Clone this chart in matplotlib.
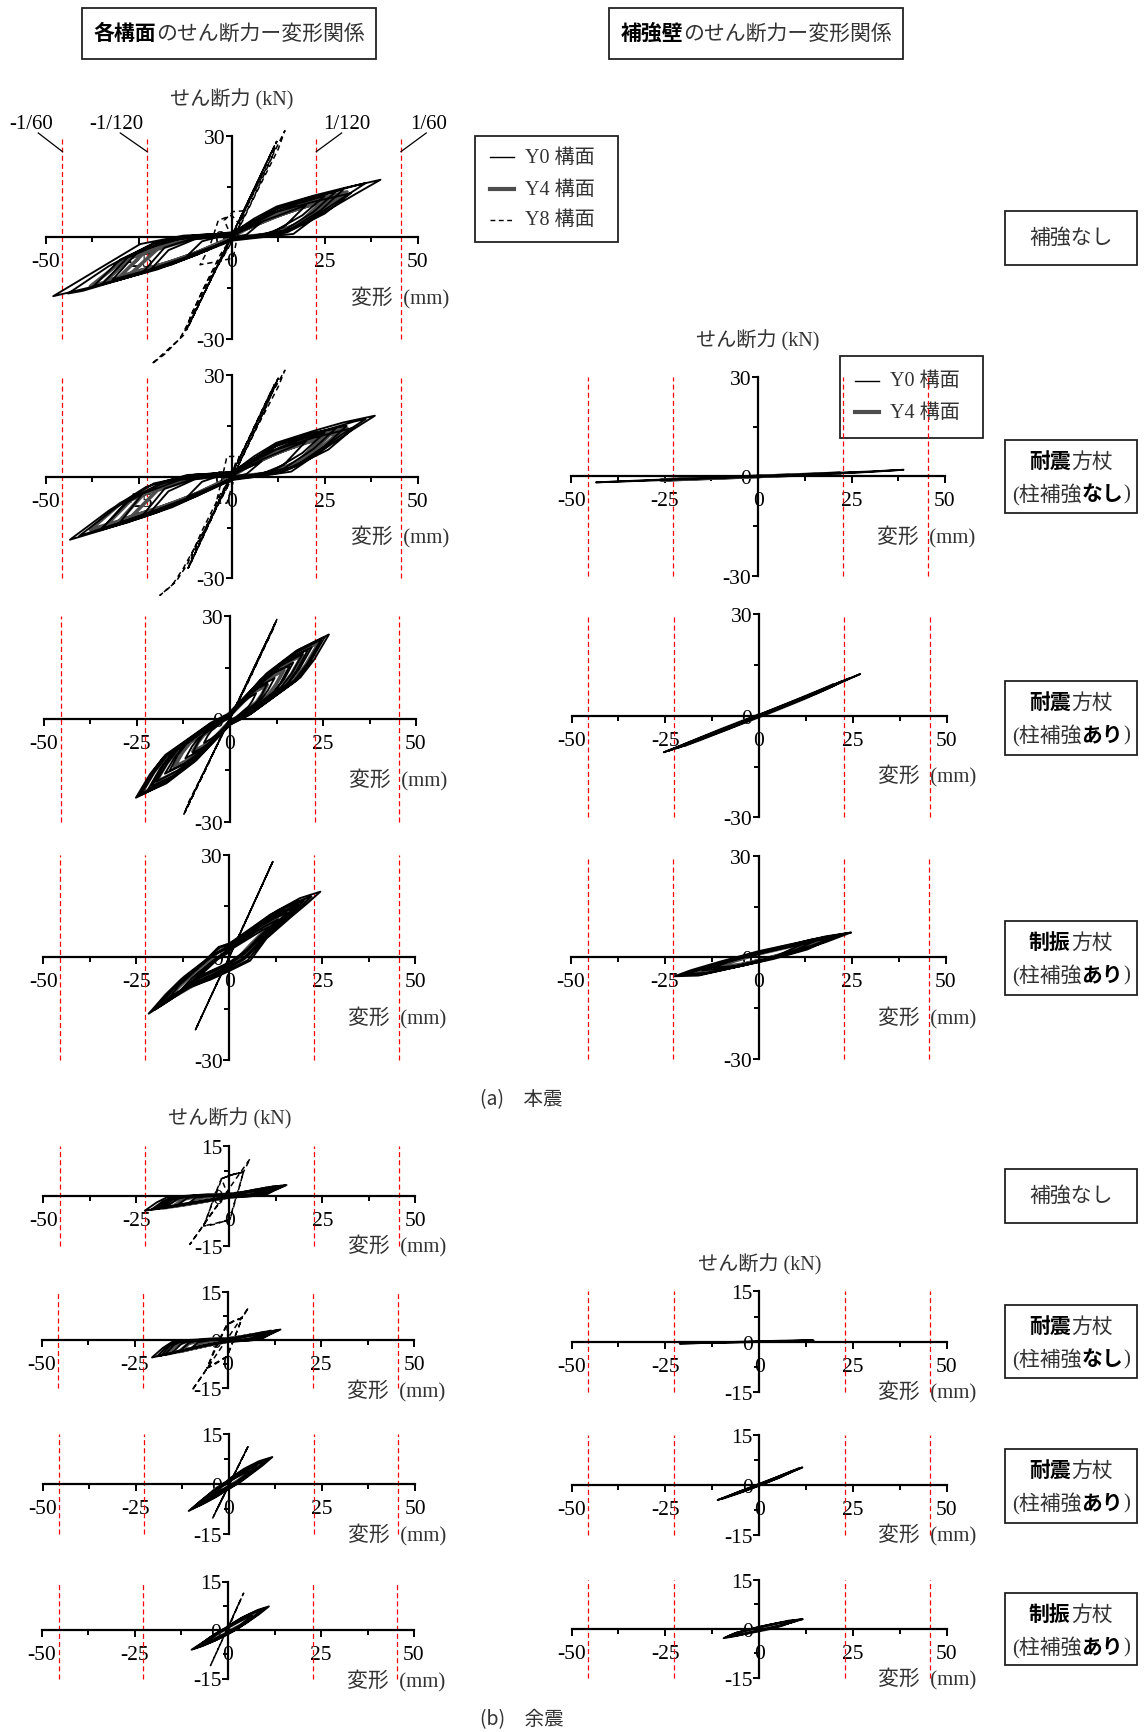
import matplotlib
matplotlib.use('Agg')
import matplotlib.pyplot as plt
from matplotlib.patches import Rectangle

plt.rcParams['font.family'] = ['Liberation Serif', 'Noto Sans CJK JP']
JP = ['Liberation Serif', 'Noto Sans CJK JP']
SANS = ['Noto Sans CJK JP', 'DejaVu Sans']

# ---------------- data ----------------
x_ticks = [-50, -25, 0, 25, 50]
x_tick_labels = ['-50', '-25', '0', '25', '50']
x_minor = [-37.5, -12.5, 12.5, 37.5]
drift_x = [-45.5, -22.75, 22.75, 45.5]
drift_labels = ['-1/60', '-1/120', '1/120', '1/60']
series_names = ['Y0 構面', 'Y4 構面', 'Y8 構面']
y_label = 'せん断力 (kN)'
x_label = '変形  (mm)'

# (a) main shock, frames ------------------------------------------------
a1_y0 = [(0,0),(2,1.5),(5,3),(8,4.5),(4,0.8),(1,0),(0,-0.5),(-3,-2),(-7,-3.5),(-12,-5.5),(-8,-1.2),(-4,0),(0,0.8),
         (4,2.5),(9,5),(14,7),(20,9.5),(14,3),(8,0.5),(2,0),(-4,-2.5),(-11,-5.5),(-18,-8.5),(-24,-10.5),(-18,-3),(-10,-0.2),(-4,0.5),(0,1),
         (5,4),(12,8.5),(20,11.5),(30,14.1),(24,8),(16,2.5),(8,0.3),(0,-0.5),(-9,-5),(-20,-9.5),(-30,-12.5),(-37.2,-14.5),(-30,-6.6),(-21,-2),(-12,0),(0,1.5),
         (5,4.2),(12,8.3),(21,11.5),(28,13.5),(22,7.5),(14,2),(6,0.1),(0,-0.6),(-9,-4.8),(-19,-8.8),(-29,-12.2),(-35,-14),(-28,-6),(-18,-1.3),(-8,0.6),(0,1.1),
         (6,5.5),(12.1,9.1),(22,12.3),(30,14.5),(40,17),(33,12.6),(22,5.5),(16.6,1),(8,0),(0,-1),(-8,-4.5),(-16,-8),(-23,-10.1),(-37,-14.5),(-48,-17.4),(-36,-9.5),(-24.6,-2),(-13,0.5),(0,1.2),
         (6,4.8),(13,9),(23,12.2),(33,15.2),(36,16),(29,11),(20,4.5),(13,1),(0,-0.7),(-11,-5.8),(-24,-10.6),(-40,-15.8),(-44,-16.6),(-33,-8.5),(-21,-1.7),(-10,0.6),(0,1.3),
         (5,3.5),(12,7.5),(22,10.5),(32,13),(25,7),(15,1.5),(6,0),(0,-0.5),(-10,-5),(-22,-9.5),(-32,-12.5),(-25,-4),(-14,-0.5),(-5,0.5),(0,0.5),
         (4,3.2),(10,6.8),(18,10),(25,12.2),(19,6.5),(11,1.5),(3,0),(0,-0.4),(-7,-3.8),(-15,-7.4),(-22,-9.8),(-17,-3.8),(-10,-0.6),(0,0.7)]
a1_y4 = [(0,0),(4,2.5),(10,5.5),(18,8.5),(26,11),(20,5),(12,1.2),(4,0),(0,-0.5),(-6,-3),(-14,-6.5),(-22,-9),(-30,-11.5),(-24,-5),(-15,-1),(-6,0.3),(0,0.8),
         (6,3.5),(14,7),(22,10),(28,12),(22,6),(14,1.5),(6,0.2),(0,-0.3),(-8,-4),(-17,-7.5),(-26,-10.5),(-34,-13),(-27,-6),(-17,-1.5),(-7,0.4),(0,1),
         (5,3.8),(13,7.8),(21,10.8),(31,13.4),(25,8),(16,2.5),(7,0.3),(0,-0.4),(-9,-4.6),(-19,-8.5),(-30,-12),(-38,-14.5),(-30,-7.5),(-19,-2),(-8,0.4),(0,0.9),
         (5,3),(12,6.3),(20,9.2),(24,10.2),(18,4),(10,0.8),(0,0),(-10,-4.8),(-20,-8.5),(-27,-10.6),(-20,-3.5),(-10,-0.3),(0,0.5)]
a1_y8 = [(0,0),(-2,5),(0.4,7.6),(3,7.8),(2,3),(0.4,-6.1),(-3,-7),(-8.5,-8.1),(-6,-3),(-3.6,5),(0,6.5),
         (2,4),(4,9),(8,18),(12.1,28.3),(11,24),(6,12),(1,1),(-4,-9),(-8,-18),(-12.1,-27.3),(-11,-23),(-6,-12),(0,0),
         (4,9.7),(8,18.9),(11.5,27),(9,21.2),(4.5,10.8),(-1,-1.8),(-5.5,-12.2),(-9,-20.2),(-11.5,-26),(-9.5,-21.4),(-3.5,-7.6),
         (2,5.1),(7,16.6),(12.1,28.3),(10,23.5),(3,7.4),(-2.5,-5.3),(-7,-15.6),(-12.1,-27.3),(-10,-22),(-4,-8.5),(0,0),
         (5,11),(10,22),(14.3,31.5),(12.5,26),(7,14),(1,0.5),(-4,-9),(-9,-20),(-14,-30),(-18,-34.5),(-21.5,-37.4),
         (-17,-33),(-13,-29),(-12,-26),(-8,-16),(-3,-5),(0,0)]

a2_y0 = [(0,0),(2,1.5),(5,3),(8,4.5),(4,0.8),(1,0),(0,-0.5),(-3,-2),(-7,-3.8),(-12,-6),(-8,-1.5),(-4,0),(0,0.8),
         (4,2.8),(9,5.5),(14,7.8),(20,10.5),(14,3.5),(8,0.8),(2,0),(-4,-2.8),(-11,-6),(-18,-9.5),(-24,-11.5),(-18,-3.5),(-10,-0.5),(-4,0.5),(0,1),
         (5,4.5),(12,9.5),(20,12.5),(30.9,15),(25,9),(17,3),(8,0.5),(0,-0.5),(-9,-5.5),(-20,-10.5),(-28,-13.5),(-35.4,-15.8),(-28,-7.5),(-20,-2.5),(-12,0),(0,1.5),
         (5,4.6),(12,9),(21,12.3),(28,14.3),(22,8.2),(14,2.4),(6,0.2),(0,-0.6),(-9,-5.2),(-19,-9.6),(-29,-13.2),(-35,-15.5),(-28,-7),(-18,-1.6),(-8,0.6),(0,1.1),
         (6,6),(12,10),(22,13.5),(30,16),(38.5,18),(32,13.5),(22,6),(16,1.5),(8,0.2),(0,-1),(-8,-5),(-16,-9),(-24,-12),(-35,-15.8),(-43.5,-18.6),(-33,-10),(-23,-3),(-12,0.5),(0,1.2),
         (6,5.2),(13,9.8),(23,13),(33,16.3),(36,17),(29,12),(20,5),(13,1.2),(0,-0.7),(-11,-6.2),(-24,-11.5),(-37,-16),(-41,-17.5),(-31,-9),(-21,-2),(-10,0.6),(0,1.3),
         (5,4),(12,8),(22,11.5),(33,14.5),(26,8),(15,2),(6,0.2),(0,-0.5),(-10,-5.5),(-22,-10.5),(-30,-13.5),(-24,-5),(-14,-1),(-5,0.5),(0,0.5),
         (4,3.5),(10,7.3),(18,10.8),(25,13),(19,7),(11,1.7),(3,0),(0,-0.4),(-7,-4.2),(-15,-8),(-22,-10.6),(-17,-4.3),(-10,-0.8),(0,0.7)]
a2_y4 = [(0,0),(4,2.8),(10,6),(18,9.5),(26,12),(20,5.5),(12,1.5),(4,0),(0,-0.5),(-6,-3.3),(-14,-7.2),(-22,-10),(-30,-12.8),(-24,-5.5),(-15,-1.2),(-6,0.3),(0,0.8),
         (6,4),(14,7.8),(22,11),(29,13.2),(22,6.5),(14,1.8),(6,0.2),(0,-0.3),(-8,-4.5),(-17,-8.3),(-26,-11.8),(-34,-14.6),(-27,-6.8),(-17,-1.8),(-7,0.4),(0,1),
         (5,4),(13,8.4),(21,11.6),(31,14.3),(25,8.6),(16,2.7),(7,0.3),(0,-0.4),(-9,-5),(-19,-9.2),(-30,-13),(-38,-15.6),(-30,-8),(-19,-2.2),(-8,0.4),(0,0.9),
         (5,3.3),(12,7),(20,10),(24,11.2),(18,4.5),(10,1),(0,0),(-10,-5.3),(-20,-9.4),(-27,-11.8),(-20,-4),(-10,-0.5),(0,0.5)]
a2_y8 = [(0,0),(1,4),(2.2,5.9),(0,6),(-1.3,5.9),(-2.5,0),(-4.2,-7.8),(-1.3,-7.8),(0,-3),(2,4),(5,11),(9,20),(12.5,29.1),(11,25),(6,13),(1,1.5),
         (-4,-9),(-8,-18.5),(-11.7,-27),(-10.5,-23),(-5,-10.5),(0,1),
         (4,9.8),(8,19.1),(11.5,27.2),(9,21.4),(4.5,11),(-1,-1.8),(-5.5,-12.4),(-9,-20.6),(-11.7,-27),(-9.5,-21.8),(-3.5,-7.6),
         (2,5.2),(7,16.8),(12.5,29.1),(10,23.8),(3,7.5),(-2.5,-5.4),(-7,-16),(-11.7,-27),
         (-8,-18),(-3,-6),(0,1),(5,12),(10,23),(14.3,31.4),(12.5,26.5),(7,15),(1,1.5),(-4,-9),(-9,-19),
         (-13,-27),(-16,-32),(-19.3,-35),(-15,-31),(-12,-26),(-8,-16),(-3,-5),(0,0)]

a3_y0 = [(0,2),(10,13.1),(18.6,20.3),(26.6,24.7),(22.6,17.3),(18.9,12.1),(5.6,1.5),(0,-1.5),(-9.6,-12.2),(-17.7,-18.9),(-25.3,-23),(-21.5,-16.1),(-18,-11.3),(-5.3,-1.4),(0,1.5),
         (9.8,13.3),(17.9,20),(25.5,24),(21.5,16.5),(18,11.3),(5.2,1.2),(0,-1.7),(-9.3,-12.3),(-17.1,-18.8),(-24.5,-22.4),(-20.8,-15.4),(-17.4,-10.5),(-5.1,-1.1),(0,1.7),
         (9.3,12.3),(17.2,19.1),(24.5,23.2),(20.8,16.2),(17.4,11.4),(5.1,1.4),(0,-1.4),(-9,-11.5),(-16.7,-17.9),(-23.8,-21.8),(-20.2,-15.3),(-16.9,-10.7),(-5,-1.3),(0,1.5),
         (8.4,11.1),(15.4,17.2),(22,21),(18.7,14.7),(15.6,10.3),(4.6,1.3),(0,-1.3),(-8.4,-10.9),(-15.4,-16.8),(-22,-20.5),(-18.7,-14.3),(-15.6,-10),(-4.6,-1.2),(0,1.3),
         (8.1,11.4),(14.7,17.2),(21,20.3),(17.8,14),(14.9,9.5),(4.3,1),(0,-1.5),(-8,-10.6),(-14.7,-16.4),(-21,-19.6),(-17.8,-13.4),(-14.9,-9.1),(-4.3,-0.9),(0,1.4),
         (7.4,10.1),(13.7,15.6),(19.5,19),(16.6,13.3),(13.8,9.3),(4.1,1.1),(0,-1.1),(-7.5,-9.7),(-13.9,-15),(-19.8,-18.3),(-16.8,-12.8),(-14.1,-9),(-4.2,-1.1),(0,1.2),
         (6.5,8.7),(11.9,13.5),(17,16.5),(14.5,11.5),(12,8.1),(3.6,1),(0,-1),(-6.7,-8.5),(-12.3,-13.1),(-17.5,-16),(-14.9,-11.2),(-12.4,-7.8),(-3.7,-0.9),(0,1),
         (6.1,8.9),(11.2,13.3),(16,15.5),(13.6,10.6),(11.3,7.2),(3.3,0.7),(0,-1.2),(-6.2,-8.5),(-11.4,-12.6),(-16.3,-15.2),(-13.9,-10.3),(-11.5,-7),(-3.4,-0.6),(0,1.2),
         (4.6,6.4),(8.4,9.8),(12,12),(10.2,8.4),(8.5,5.9),(2.5,0.7),(0,-0.8),(-4.6,-6.1),(-8.4,-9.4),(-12,-11.5),(-10.2,-8),(-8.5,-5.6),(-2.5,-0.7),(0,0.8),
         (3.8,6),(7,8.8),(10,10.3),(8.5,7),(7.1,4.7),(2.1,0.4),(0,-0.9),(-3.8,-5.6),(-7,-8.3),(-10,-9.8),(-8.5,-6.6),(-7.1,-4.4),(-2.1,-0.4),(0,0.9),
         (2.7,4),(4.9,6.2),(7,7.5),(6,5.3),(5,3.7),(1.5,0.4),(0,-0.5),(-2.7,-3.7),(-4.9,-5.7),(-7,-7),(-6,-4.9),(-5,-3.4),(-1.5,-0.4),(0,0.4)]
a3_y4 = [(0,1.8),(9.1,11.9),(16.8,18.5),(24,22.5),(20.4,15.8),(17,11),(5,1.4),(0,-1.4),(-9.1,-11.7),(-16.8,-18),(-24,-22),(-20.4,-15.4),(-17,-10.8),(-5,-1.3),(0,1.6),
         (7.4,10),(13.7,15.4),(19.5,18.8),(16.6,13.2),(13.8,9.2),(4.1,1.1),(0,-1.1),(-7.6,-9.8),(-14,-15.2),(-20,-18.5),(-17,-13),(-14.2,-9.1),(-4.2,-1.1),(0,1.3),
         (5.5,7.6),(10.2,11.7),(14.5,14.3),(12.3,10),(10.3,7),(3,0.9),(0,-0.9),(-5.7,-7.4),(-10.5,-11.5),(-15,-14),(-12.8,-9.8),(-10.7,-6.9),(-3.2,-0.8),(0,1),
         (3.8,5.3),(7,8.2),(10,10),(8.5,7),(7.1,4.9),(2.1,0.6),(0,-0.6),(-3.8,-5),(-7,-7.8),(-10,-9.5),(-8.5,-6.7),(-7.1,-4.7),(-2.1,-0.6),(0,0.6)]
a3_y8 = [(0,0),(6,14),(12.6,29.1),(11.5,26),(5,11.5),(0,0.5),(-6,-13.5),(-12.4,-27.8),(-11.5,-25.5),(-5,-11),(0,0),
         (6,13.5),(12,27.5),(11,25),(5,11),(-1,-2),(-7,-15.5),(-12,-27),(-11,-24),(-5,-11),(0,0),
         (3,7),(9,20.8),(12.4,28.6),(8,18.5),(2,4.5),(-3,-6.5),(-9,-20),(-12.2,-27.4),(-8,-18),(-2,-4.3),(4,9.3),(10,23)]

a4_y0 = [(0,3),(5,7.5),(12.8,13.6),(19,17.3),(24.5,19.2),(21,15.8),(16.4,11.6),(10,5.5),(5.6,-1),(0,-4),(-5,-6.5),(-11.4,-9),(-16,-12.5),(-21.7,-16.5),(-18,-12),(-13,-6.5),(-7,-1.5),(-2.9,3),(0,4),
         (5,7.8),(11,12.5),(17,15.8),(22,17.8),(19,14.5),(14.5,10.5),(9,4.8),(5,-0.8),(0,-3.6),(-5,-6.2),(-10.5,-8.7),(-15,-11.8),(-20,-15.3),(-17,-11.3),(-12,-5.8),(-6.5,-1),(-2.5,3),(0,3.6),
         (4,6.5),(10,11.2),(15,14.5),(20,16.5),(17,13),(13,9.5),(8,4),(4,-0.5),(0,-3),(-5,-5.8),(-10,-8),(-15,-11),(-19,-14),(-16,-10),(-11,-5),(-5,0),(0,3.5),
         (4.5,6.8),(9.5,10.6),(14,13.3),(18.5,15.4),(15.5,12),(12,8.5),(7.5,3.5),(4,-0.3),(0,-2.8),(-4.5,-5.3),(-9.5,-7.6),(-14,-10.4),(-18,-13.2),(-15,-9.2),(-10,-4.4),(-5,0.2),(0,3.2),
         (3.5,5.7),(9,9.9),(13.5,12.6),(17.5,14.6),(14.5,11.3),(11,7.7),(7,3),(3.5,-0.5),(0,-2.5),(-4.5,-5),(-9,-7.2),(-13,-9.8),(-16.5,-12.3),(-13.5,-8.2),(-8.5,-3.3),(-4,1),(0,2.8),
         (4,5.5),(8,8.8),(12,11.3),(15.5,13),(12,9.5),(8,5),(4,1),(0,-2),(-5,-4.5),(-9,-6.5),(-13,-9.5),(-10,-6),(-5,-1.5),(0,2.5),
         (3.5,4.8),(7,7.4),(10.5,9.6),(13,11),(10,7.8),(6.5,3.8),(3,0.4),(0,-1.8),(-4.5,-4),(-8,-5.8),(-11,-8),(-8,-4.8),(-4,-1),(0,2),
         (3,4),(6,6),(9,8),(11,9),(8,6),(5,2.5),(2,0),(0,-1.5),(-4,-3.5),(-7,-5),(-9,-6.5),(-6,-3.5),(-3,-0.5),(0,1.5)]
a4_y4 = [(0,3.5),(4,6.8),(9,10.5),(14,13.8),(18,15.5),(22,17.5),(19,14.5),(14,10.5),(9,5.5),(5,0.5),(0,-3.5),(-5,-6),(-10,-8.4),(-15,-11.5),(-20,-15),(-17,-11),(-12,-5.8),(-6,-0.8),(-2,3),(0,3.8),
         (5,7),(10,10.5),(14,12.8),(17.5,14.5),(14,11),(10,7),(6,2.5),(3,-0.5),(0,-2.5),(-5,-5.2),(-10,-7.7),(-14,-10.5),(-17,-12.5),(-13,-8),(-8,-3),(-3,1.5),(0,3),
         (4,5.5),(8,8.3),(13,11.5),(10,8.3),(6,4),(3,0.5),(0,-1.8),(-4,-4),(-8,-6),(-11,-8),(-8,-4.5),(-4,-0.8),(0,2)]
a4_y8 = [(0,0.2),(6,14.4),(11.7,28),(6,14.4),(0,0.2),(-5,-11.5),(-9.1,-21.2),(-5,-11.5),(0,0.2),(6,14.4),(11.7,28),
         (8,19.1),(3,7.1),(-2,-4.6),(-7,-16.3),(-9.1,-21.2),(-6,-14),(-1,-2.3),(4,9.6),(9,21.5),(11.7,28)]

# (a) main shock, braces ------------------------------------------------
a2r_y0 = [(0,0),(10,0.5),(20,1),(30,1.5),(38.9,2),(30,1.35),(20,0.85),(10,0.35),(0,-0.1),(-10,-0.5),(-20,-0.9),(-30,-1.3),(-43.4,-1.8),
          (-30,-1.15),(-20,-0.7),(-10,-0.3),(0,0.1),(10,0.45),(20,0.95),(28,1.3)]
a2r_y4 = [(0,0),(8,0.35),(16,0.7),(22,0.95),(14,0.55),(0,0),(-10,-0.45),(-20,-0.85),(-26,-1.1),(-15,-0.6),(0,0)]
a3r_y0 = [(0,0),(8,3.5),(16,7.3),(27,12.3),(18,7.9),(8,3.2),(0,-0.2),(-8,-3.7),(-16,-7),(-25.4,-10.8),(-16,-6.6),(-8,-3.2),(0,0.3),
          (10,4.6),(22,10.1),(14,6),(4,1.4),(-6,-2.9),(-18,-8),(-22,-9.6),(-12,-4.9),(0,0.2),
          (12,5.6),(24,11),(16,6.8),(4,1.6),(-8,-3.9),(-20,-8.9),(-24,-10.3),(-14,-5.8),(-2,-0.6)]
a3r_y4 = [(0,0),(6,2.7),(14,6.3),(20,9.1),(12,5.1),(2,0.6),(-8,-3.6),(-16,-7.1),(-20,-8.7),(-10,-4.1),(0,0.2)]
a4r_y0 = [(24.6,7.3),(18,6.2),(10,4.2),(0,1.8),(-10,-1.2),(-18,-3.8),(-22.4,-5.6),(-16,-5.4),(-8,-3.4),(0,-1.4),(10,1.6),(18,4.5),(24.6,7.3),
          (22,6.8),(14,5.2),(4,2.3),(-6,-0.5),(-14,-3),(-20.5,-5.2),(-15,-5),(-6,-2.9),(4,-0.5),(13,2.3),(22,6.8),
          (20,6),(12,4.5),(2,1.8),(-8,-1),(-16,-3.8),(-20,-5),(-14,-4.6),(-4,-2.4),(6,0.6),(14,3.4),(20,6),
          (15,4.8),(6,2.6),(-4,0),(-12,-2.8),(-15,-3.9),(-8,-3),(2,-0.6),(10,2.2),(15,4.8),
          (12,4),(2,1.6),(-8,-1.2),(-12,-3),(-6,-2.6),(4,0),(12,4)]
a4r_y4 = [(17,5.5),(8,3.4),(-2,0.8),(-10,-2),(-17,-4.4),(-11,-3.8),(-2,-1.6),(8,1.4),(17,5.5),(10,3.6),(0,1),(-8,-1.6),(-11,-3),(-4,-2),(6,0.6),(10,2.8)]

# (b) aftershock, frames ------------------------------------------------
b5_y0 = [(0,0),(5,1),(10,2.1),(15.4,3.2),(12,1.5),(9.9,0.3),(0,-0.3),(-8,-1.8),(-15,-3.1),(-22.7,-4.5),(-19.5,-2),(-16.8,-0.5),(-8,0),(0,0.3),
         (6,1.4),(13,2.9),(15,3.1),(11,1.2),(8,0.1),(0,-0.4),(-9,-2),(-17,-3.5),(-21,-4.2),(-18,-1.8),(-15,-0.3),(-7,0.1),(0,0.3),
         (5,1.3),(10,2.4),(14,3),(10.5,1),(8.5,0.1),(0,-0.45),(-7.5,-1.8),(-14.5,-3.1),(-20,-4.1),(-17,-1.5),(-14,-0.2),(-6.5,0.2),(0,0.35),
         (6,1.5),(12,2.7),(9,0.8),(7,0),(0,-0.4),(-7,-1.6),(-14,-2.9),(-19,-3.8),(-16,-1.2),(-13,-0.2),(-6,0.2),(0,0.4),
         (4,0.9),(8,1.8),(11,2.4),(8.5,0.9),(6.5,0),(0,-0.35),(-7,-1.6),(-13,-2.7),(-17,-3.4),(-14,-1),(-11,-0.1),(-5,0.2),(0,0.35),
         (3,0.8),(7,1.7),(10,2.2),(7.5,0.6),(5.5,0),(0,-0.3),(-5,-1.2),(-10,-2.2),(-14,-2.9),(-11.5,-0.8),(-8.5,0),(-3,0.2),(0,0.25),
         (4,1),(12,2.6),(9.5,0.7),(0,-0.4),(-10,-2.3),(-18,-3.7),(-15,-0.9),(-9,0.1),(0,0.3),
         (5,1.2),(9,2),(6,0.4),(0,-0.3),(-6,-1.4),(-11,-2.3),(-9,-0.6),(-4,0.1),(0,0.2)]
b5_y4 = [(0,0),(4,0.9),(8,1.8),(12,2.6),(9,1.2),(7,0.2),(0,-0.4),(-6,-1.5),(-12,-2.7),(-18,-3.7),(-15,-1.5),(-12,-0.3),(-5,0.2),(0,0.4),
         (5,1.1),(10,2.2),(8,0.9),(6,0.1),(0,-0.3),(-8,-1.9),(-15,-3.1),(-12,-1),(-8,0),(0,0.3),
         (3,0.7),(7,1.6),(5,0.3),(0,-0.2),(-5,-1.2),(-10,-2.2),(-7,-0.4),(0,0.2)]
b5_y8 = [(0,0),(-1,2),(-2.1,5.1),(0.5,6.2),(3.8,7.1),(2.8,3),(1.5,-2),(0.2,-7.1),(-3,-8.1),(-6.9,-9.1),(-5.5,-5),(-4,0),(-2.1,5.1),
         (1,6.4),(3.8,7.1),(2.5,2),(1,-3.5),(0.2,-7.1),(-4,-8.6),(-6.9,-9.1),(-5,-3.5),(-3,2),(-2.1,5.1),
         (1,6.4),(3.8,7.1),(5.6,11.1),(3,7),(0,2.2),(-3,-2.6),(-6,-7.3),(-8.5,-11.3),(-10.6,-14.6),(-8,-10.5),(-5,-5.7),(-2,-1)]

b6_y0 = [(0,0),(5,1.2),(10,2.4),(14.1,3.3),(11,1.6),(9,0.3),(0,-0.4),(-7,-1.9),(-14,-3.8),(-20.4,-5.5),(-17.5,-2.5),(-15,-0.6),(-7,0),(0,0.3),
         (6,1.5),(12,2.8),(13.5,3.1),(10,1.2),(7.5,0.1),(0,-0.4),(-8,-2.2),(-15,-4.1),(-19,-5.1),(-16.5,-2.2),(-14,-0.4),(-6,0.1),(0,0.3),
         (5,1.3),(9.5,2.4),(12.5,2.9),(9.5,1),(7.5,0),(0,-0.45),(-7.5,-2.1),(-14,-3.9),(-18,-4.9),(-15.5,-1.8),(-13,-0.3),(-6,0.15),(0,0.3),
         (6,1.5),(11,2.6),(8.5,0.9),(6.5,0),(0,-0.4),(-7,-1.9),(-13,-3.5),(-17,-4.6),(-14.5,-1.5),(-12,-0.2),(-5,0.2),(0,0.4),
         (4,1),(8,1.9),(10,2.3),(7.5,0.8),(5.5,0),(0,-0.3),(-6,-1.7),(-11,-3),(-15,-4),(-12.5,-1.2),(-10,-0.1),(-4,0.2),(0,0.3),
         (3,0.8),(6.5,1.6),(9,2.1),(6.5,0.5),(4.5,0),(0,-0.3),(-5,-1.4),(-9.5,-2.6),(-13,-3.5),(-10.5,-0.9),(-7.5,0),(-3,0.2),(0,0.25),
         (5,1.2),(8.5,2),(6,0.4),(0,-0.3),(-6,-1.6),(-10,-2.7),(-8,-0.7),(-4,0.1),(0,0.2)]
b6_y4 = [(0,0),(4,1),(8,1.9),(11.5,2.7),(8.5,1.1),(6.5,0.2),(0,-0.4),(-6,-1.7),(-12,-3.3),(-16.5,-4.4),(-14,-1.7),(-11,-0.3),(-5,0.2),(0,0.4),
         (5,1.2),(9.5,2.2),(7.5,0.8),(5.5,0.1),(0,-0.3),(-7,-2),(-13,-3.6),(-10.5,-1.1),(-7,0),(0,0.3),
         (3,0.8),(6.5,1.6),(4.5,0.3),(0,-0.2),(-5,-1.4),(-9,-2.5),(-6.5,-0.5),(0,0.2)]
b6_y8 = [(0,0),(-0.2,3),(-0.3,4.8),(1.5,6),(3.8,6.9),(2.5,3),(1,-1.5),(-0.3,-5.2),(-3,-7),(-5.6,-8.8),(-4,-4.5),(-2,0.5),(-0.3,4.8),
         (2,6.2),(3.8,6.9),(2,1.5),(0.5,-3),(-0.3,-5.2),(-4,-8),(-5.6,-8.8),(-3.5,-2.5),(-0.3,4.8),
         (2,6.2),(3.8,6.9),(5.5,10.2),(3,5.9),(0,0.7),(-3,-4.4),(-6,-9.6),(-9.7,-15.9),(-7.5,-12.2),(-4,-6.1)]

b7_y0 = [(0,1.5),(4,4.5),(8,6.8),(11.7,8.1),(9,5.5),(6,3),(3,0.5),(0,-1.5),(-4,-4.2),(-8,-6.5),(-10.8,-8.1),(-8,-5.5),(-5,-2.8),(-2,-0.3),(0,1.2),
         (4,4.2),(8.5,6.6),(10.5,7.5),(8,5),(5,2.5),(2,0),(0,-1.4),(-4,-4),(-7.5,-6.2),(-10,-7.5),(-7.5,-5),(-4.5,-2.4),(-1.5,0),(0,1),
         (3.5,3.8),(7,5.8),(9.5,6.9),(7.5,4.6),(5,2.4),(2.5,0.3),(0,-1.3),(-3.5,-3.8),(-7,-5.8),(-9,-6.9),(-6.5,-4.4),(-4,-2),(-1.5,0),(0,1),
         (3,3),(5.5,4.5),(7.5,5.5),(5.5,3.5),(3.5,1.6),(1.5,0),(0,-0.9),(-3,-3),(-5.5,-4.5),(-7,-5.3),(-5,-3.3),(-3,-1.3),(0,0.7),
         (2,2),(4,3.2),(5.5,3.8),(4,2.3),(2,0.6),(0,-0.6),(-2,-1.8),(-4,-3),(-5,-3.6),(-3.5,-2.2),(-1.5,-0.5),(0,0.5)]
b7_y4 = [(0,1),(3,3.3),(6,5.3),(8.5,6.2),(6.5,4),(4,1.8),(1.5,0),(0,-1),(-3,-3.3),(-6,-5.2),(-8,-6.3),(-6,-4),(-3.5,-1.5),(0,0.9),
         (2.5,2.6),(5,4.2),(6.5,4.8),(4.5,2.8),(2.5,1),(0,-0.7),(-2.5,-2.6),(-5,-4.1),(-6,-4.6),(-4,-2.5),(-2,-0.6),(0,0.6)]
b7_y8 = [(0,0),(2,4.1),(4,8.6),(5.4,11.8),(3,6.4),(0,-0.4),(-2.5,-6),(-4.5,-10.6),(-2,-4.9),(0,-0.4),(3,6.4),(5,10.9),
         (2.5,5.3),(-1,-2.7),(-3.5,-8.3),(-1,-2.7)]

b8_y0 = [(0,1.3),(4,4),(8,6.2),(11,7.3),(8.5,5),(5.5,2.6),(2.5,0.3),(0,-1.3),(-3.5,-3.3),(-7,-5),(-9.8,-6.1),(-7,-4),(-4.5,-2),(-2,-0.2),(0,1),
         (3.5,3.6),(7.5,5.8),(10,6.8),(7.8,4.6),(5,2.3),(2.2,0.2),(0,-1.2),(-3.2,-3.1),(-6.5,-4.7),(-9,-5.7),(-6.5,-3.7),(-4,-1.7),(-1.5,0),(0,0.9),
         (3,3),(6.5,5.2),(9,6.2),(7,4.2),(4.5,2),(2,0.2),(0,-1),(-3,-2.8),(-6,-4.3),(-8,-5.1),(-6,-3.3),(-3.5,-1.3),(0,0.8),
         (2.5,2.3),(5,3.8),(6.5,4.5),(5,3),(3,1.3),(1,0),(0,-0.7),(-2.5,-2.1),(-4.5,-3.3),(-6,-3.9),(-4,-2.2),(-2,-0.6),(0,0.5)]
b8_y4 = [(0,0.9),(3,2.8),(6,4.6),(8,5.5),(6,3.6),(3.5,1.5),(1,0),(0,-0.8),(-3,-2.6),(-5.5,-3.9),(-7,-4.5),(-5,-2.7),(-2.5,-0.8),(0,0.7)]
b8_y8 = [(0,0),(2,5.8),(4.2,11.4),(2,5.8),(0,0.8),(-2.5,-5.5),(-4.7,-11),(-2,-4.2),(0,0.8),(3,8.4)]

# (b) aftershock, braces ------------------------------------------------
b6r_y0 = [(0,0),(5,0.15),(10,0.25),(14.5,0.35),(8,0.1),(0,-0.1),(-8,-0.25),(-15,-0.4),(-21.2,-0.55),(-14,-0.35),(-6,-0.15),(0,0.05),(6,0.2),(12,0.3),
          (14,0.45),(6,0.3),(0,0.15),(-8,-0.1),(-16,-0.3),(-20,-0.4)]
b7r_y0 = [(0,0),(4,1.8),(8,3.6),(11.5,5.2),(7,3),(3,1.1),(0,-0.2),(-4,-1.9),(-8,-3.4),(-11.1,-4.6),(-7,-2.8),(-3,-1.1),(0,0.3),
          (5,2.4),(9,4.2),(5,2),(0,0),(-5,-2.3),(-9,-3.8),(-5,-1.9),(0,0.1),(6,2.9),(10.5,4.9),(6,2.4),(0,-0.3),(-6,-2.8),(-10,-4.3)]
b8r_y0 = [(11.5,2.9),(8,2.3),(4,1.5),(0,0.6),(-4,-0.6),(-7,-1.6),(-9.5,-2.9),(-6,-2.2),(-2,-1.1),(2,0),(6,1.1),(9,2),(11.5,2.9),
          (8,2.5),(3,1.3),(-2,-0.1),(-6,-1.2),(-8,-2.2),(-4,-1.5),(1,-0.3),(6,1),(9.5,2.3),
          (10.5,2.7),(5,1.7),(0,0.4),(-5,-1),(-8.8,-2.6),(-5,-1.9),(0,-0.7),(5,0.6),(10.5,2.7)]
b8r_y4 = [(8,2),(3,1),(-2,-0.3),(-6,-1.5),(-3,-1.2),(2,-0.1),(6,1.1),(8,2)]

# ---------------- figure ----------------
W, H = 1146, 1733
fig = plt.figure(figsize=(W / 100, H / 100), dpi=100)
fig.patch.set_facecolor('white')

ov = fig.add_axes([0, 0, 1, 1])
ov.set_xlim(0, W)
ov.set_ylim(H, 0)
ov.axis('off')

TXT = '#333333'
Y4C = '#4d4d4d'


def draw(ax, pts, kind):
    xs = [p[0] for p in pts]
    ys = [p[1] for p in pts]
    if kind == 'y4':
        ax.plot(xs, ys, color=Y4C, lw=2.6, zorder=2, solid_joinstyle='round')
    elif kind == 'y0':
        ax.plot(xs, ys, color='black', lw=1.35, zorder=3)
    else:
        ax.plot(xs, ys, color='black', lw=1.1, ls=(0, (3.5, 2.5)), zorder=3)


def panel(xl, xr, y0, yt, ymax, data, klabel=False):
    sx = (xr - xl) / 100.0
    x0 = (xl + xr) / 2.0
    sy = (y0 - yt) / ymax
    xlim = (-58, 58)
    ylim = (-1.35 * ymax, 1.2 * ymax)
    left = x0 + xlim[0] * sx
    right = x0 + xlim[1] * sx
    top = y0 - ylim[1] * sy
    bottom = y0 - ylim[0] * sy
    ax = fig.add_axes([left / W, 1 - bottom / H, (right - left) / W, (bottom - top) / H])
    ax.set_xlim(*xlim)
    ax.set_ylim(*ylim)
    ax.patch.set_visible(False)
    ax.set_axisbelow(True)
    for s in ['top', 'right']:
        ax.spines[s].set_visible(False)
    ax.spines['left'].set_position(('data', 0))
    ax.spines['bottom'].set_position(('data', 0))
    ax.spines['left'].set_bounds(-ymax, ymax)
    ax.spines['bottom'].set_bounds(-50, 50)
    for s in ['left', 'bottom']:
        ax.spines[s].set_linewidth(1.6)
    ax.set_xticks(x_ticks)
    ax.set_xticklabels(x_tick_labels)
    ax.set_xticks(x_minor, minor=True)
    ax.set_yticks([-ymax, 0, ymax])
    ax.set_yticklabels([str(-ymax), '0', str(ymax)])
    ax.set_yticks([-ymax / 2, ymax / 2], minor=True)
    ax.tick_params(axis='x', which='major', direction='out', length=4.7, width=1.4, labelsize=15.5, pad=6)
    ax.tick_params(axis='x', which='minor', direction='out', length=3.6, width=1.4)
    ax.tick_params(axis='y', which='major', direction='out', length=4.3, width=1.4, labelsize=15.5, pad=0.5)
    ax.tick_params(axis='y', which='minor', direction='out', length=3.6, width=1.4)
    ax.vlines(drift_x, -ymax, ymax, colors='#ff0000', linestyles=(0, (4, 2.5)), lw=0.9, zorder=1)
    for kind in ['y4', 'y0', 'y8']:
        if kind in data:
            draw(ax, data[kind], kind)
    off = 60 if ymax == 30 else 50
    ov.text(x0 + 119, y0 + off, x_label, fontsize=15, color=TXT, ha='left', va='center', family=JP)
    if klabel:
        koff = 37 if ymax == 30 else 28
        ov.text(x0, yt - koff, y_label, fontsize=14.5, color=TXT, ha='center', va='center', family=JP)
    return ax


specs = [
    (45.7, 417.7, 238.3, 136.7, 30, {'y4': a1_y4, 'y0': a1_y0, 'y8': a1_y8}, True),
    (45.7, 417.7, 477.7, 376.0, 30, {'y4': a2_y4, 'y0': a2_y0, 'y8': a2_y8}, False),
    (44.0, 416.0, 720.0, 617.3, 30, {'y4': a3_y4, 'y0': a3_y0, 'y8': a3_y8}, False),
    (43.3, 415.3, 958.3, 855.7, 30, {'y4': a4_y4, 'y0': a4_y0, 'y8': a4_y8}, False),
    (571.3, 945.0, 477.4, 378.0, 30, {'y4': a2r_y4, 'y0': a2r_y0}, True),
    (571.5, 946.5, 716.7, 615.0, 30, {'y4': a3r_y4, 'y0': a3r_y0}, False),
    (571.0, 946.0, 958.3, 856.7, 30, {'y4': a4r_y4, 'y0': a4r_y0}, False),
    (43.3, 415.3, 1196.7, 1146.7, 15, {'y4': b5_y4, 'y0': b5_y0, 'y8': b5_y8}, True),
    (41.7, 414.3, 1341.0, 1293.3, 15, {'y4': b6_y4, 'y0': b6_y0, 'y8': b6_y8}, False),
    (42.7, 415.0, 1485.0, 1435.0, 15, {'y4': b7_y4, 'y0': b7_y0, 'y8': b7_y8}, False),
    (42.0, 414.0, 1631.0, 1582.5, 15, {'y4': b8_y4, 'y0': b8_y0, 'y8': b8_y8}, False),
    (571.5, 947.0, 1342.7, 1292.3, 15, {'y0': b6r_y0}, True),
    (571.5, 947.0, 1485.7, 1435.7, 15, {'y0': b7r_y0}, False),
    (571.5, 947.0, 1629.7, 1580.7, 15, {'y4': b8r_y4, 'y0': b8r_y0}, False),
]
axes = [panel(*s) for s in specs]

# drift annotations on the first panel
ax1 = axes[0]
lead_dx = [-6.5, -7.2, 6.8, 6.8]
lab_x = [-53.8, -31.1, 30.9, 52.8]
for xd, dx, lx, lab in zip(drift_x, lead_dx, lab_x, drift_labels):
    ax1.plot([xd, xd + dx], [25.3, 30.8], color='black', lw=0.9, clip_on=False)
    ax1.text(lx, 33.6, lab, fontsize=15, ha='center', va='center', clip_on=False)

# ---------------- boxes and legends ----------------
r = fig.canvas.get_renderer()


def mixed(cx, cy, pieces, size, family=JP):
    ts, ws = [], []
    for s, b in pieces:
        t = ov.text(0, cy, s, fontsize=size, fontweight='bold' if b else 'normal',
                    color='black' if b else TXT, ha='left', va='center', family=family)
        ws.append(t.get_window_extent(renderer=r).width)
        ts.append(t)
    x = cx - sum(ws) / 2.0
    for t, w in zip(ts, ws):
        t.set_x(x)
        x += w


def box(x0, y0, x1, y1, lw=1.3):
    ov.add_patch(Rectangle((x0, y0), x1 - x0, y1 - y0, fill=False, ec='#222222', lw=lw))


box(82, 9, 376, 60)
mixed(229, 35, [('各構面', True), ('のせん断力ー変形関係', False)], 15)
box(609, 9, 903, 60)
mixed(756, 35, [('補強壁', True), ('のせん断力ー変形関係', False)], 15)

box(475, 137, 618, 243)
leg_y = [158.3, 190.0, 220.7]
ov.plot([490, 514], [leg_y[0]] * 2, color='black', lw=1.0)
ov.plot([490, 514], [leg_y[1]] * 2, color=Y4C, lw=3.0)
ov.plot([490, 514], [leg_y[2]] * 2, color='black', lw=1.0, ls=(0, (3.5, 2.5)))
for yy, nm in zip(leg_y, series_names):
    ov.text(525, yy, nm, fontsize=14.5, color=TXT, ha='left', va='center', family=JP)

box(840, 357, 983, 439)
leg2_y = [381.7, 413.3]
ov.plot([855, 879], [leg2_y[0]] * 2, color='black', lw=1.0)
ov.plot([855, 879], [leg2_y[1]] * 2, color=Y4C, lw=3.0)
for yy, nm in zip(leg2_y, series_names[:2]):
    ov.text(890, yy, nm, fontsize=14.5, color=TXT, ha='left', va='center', family=JP)

case_boxes = [
    (212, 266, [[('補強なし', False)]]),
    (441, 514, [[('耐震', True), ('方杖', False)], [('(柱補強', False), ('なし', True), (')', False)]]),
    (682, 756, [[('耐震', True), ('方杖', False)], [('(柱補強', False), ('あり', True), (')', False)]]),
    (922, 996, [[('制振', True), ('方杖', False)], [('(柱補強', False), ('あり', True), (')', False)]]),
    (1170, 1224, [[('補強なし', False)]]),
    (1306, 1379, [[('耐震', True), ('方杖', False)], [('(柱補強', False), ('なし', True), (')', False)]]),
    (1450, 1524, [[('耐震', True), ('方杖', False)], [('(柱補強', False), ('あり', True), (')', False)]]),
    (1594, 1666, [[('制振', True), ('方杖', False)], [('(柱補強', False), ('あり', True), (')', False)]]),
]
for top, bot, lines in case_boxes:
    box(1004.5, top, 1137, bot)
    cx = (1004.5 + 1137) / 2
    if len(lines) == 1:
        mixed(cx, (top + bot) / 2, lines[0], 15)
    else:
        mixed(cx, top + 22, lines[0], 15)
        mixed(cx, top + 54, lines[1], 15)

ov.text(480, 1100, '(a)　本震', fontsize=14, color=TXT, ha='left', va='center', family=SANS)
ov.text(480, 1720, '(b)　余震', fontsize=14, color=TXT, ha='left', va='center', family=SANS)

fig.savefig('out.png', dpi=100, facecolor='white')
